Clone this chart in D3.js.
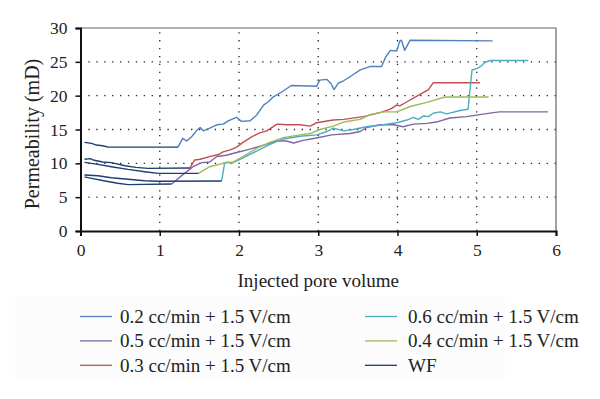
<!DOCTYPE html>
<html>
<head>
<meta charset="utf-8">
<script src="https://cdn.jsdelivr.net/npm/d3@7"></script>
<style>
  body { margin: 0; background: #fff; }
</style>
</head>
<body>
<svg id="chart" width="600" height="399"></svg>
<script>
// water flooding stage of each run (dark navy, "WF")
const wfRun02 = [[0.05, 13.1], [0.14, 12.95], [0.20, 12.7], [0.28, 12.6], [0.35, 12.4], [1.23, 12.4]];
const wfRun03 = [[0.05, 10.6], [0.12, 10.7], [0.16, 10.5], [0.28, 10.2], [0.39, 10.1], [0.56, 9.65], [0.70, 9.4], [0.85, 9.26], [1.38, 9.3]];
const wfRun04 = [[0.05, 10.15], [0.22, 9.85], [0.39, 9.5], [0.60, 9.1], [0.81, 8.76], [0.98, 8.52], [1.49, 8.52]];
const wfRun06 = [[0.05, 8.27], [0.22, 8.17], [0.39, 7.87], [0.60, 7.64], [0.81, 7.43], [0.98, 7.35], [1.78, 7.38]];
const wfRun05 = [[0.05, 8.0], [0.14, 7.78], [0.31, 7.39], [0.47, 7.05], [0.60, 6.85], [1.15, 6.95]];

// electrokinetic stage
const ek02 = [[1.23, 12.4], [1.29, 13.7], [1.34, 13.3], [1.40, 13.9], [1.47, 14.9], [1.51, 15.3], [1.55, 14.8],
  [1.63, 15.2], [1.72, 15.7], [1.80, 15.8], [1.87, 16.3], [1.97, 16.8], [2.03, 16.2], [2.14, 16.3], [2.22, 17.1],
  [2.31, 18.6], [2.37, 19.1], [2.43, 19.8], [2.52, 20.4], [2.66, 21.5], [2.98, 21.4], [3.02, 22.3], [3.11, 22.4],
  [3.16, 21.8], [3.20, 20.9], [3.25, 21.8], [3.32, 22.2], [3.40, 22.8], [3.53, 23.8], [3.65, 24.3], [3.80, 24.3],
  [3.85, 25.7], [3.91, 26.7], [3.99, 26.6], [4.03, 28.1], [4.05, 28.2], [4.09, 26.7], [4.16, 28.2], [5.20, 28.1]];
const ek05 = [[1.15, 6.95], [1.30, 8.4], [1.42, 9.5], [1.53, 10.1], [1.63, 10.2], [1.72, 11.0], [1.84, 11.2],
  [1.97, 11.6], [2.14, 12.1], [2.31, 12.7], [2.48, 13.3], [2.60, 13.3], [2.69, 13.0], [2.81, 13.4], [2.96, 13.7],
  [3.17, 14.2], [3.40, 14.4], [3.53, 14.7], [3.61, 15.3], [3.78, 15.7], [3.95, 15.7], [4.07, 15.4], [4.20, 15.8],
  [4.37, 15.9], [4.49, 16.1], [4.66, 16.7], [4.87, 16.9], [5.04, 17.2], [5.21, 17.5], [5.29, 17.6], [5.90, 17.6]];
const ek03 = [[1.38, 9.3], [1.44, 10.5], [1.51, 10.6], [1.63, 11.0], [1.74, 11.3], [1.80, 11.7], [1.89, 12.0],
  [1.97, 12.4], [2.05, 13.1], [2.16, 13.9], [2.26, 14.5], [2.35, 14.8], [2.48, 15.8], [2.60, 15.7], [2.77, 15.7],
  [2.90, 15.5], [2.98, 16.0], [3.19, 16.4], [3.32, 16.5], [3.57, 16.9], [3.78, 17.5], [3.91, 18.0], [3.99, 18.6],
  [4.03, 18.5], [4.12, 19.1], [4.24, 19.9], [4.39, 20.9], [4.45, 21.9], [5.04, 21.9]];
const ek06 = [[1.78, 7.38], [1.82, 10.1], [1.87, 10.2], [1.90, 9.95], [2.05, 10.8], [2.22, 11.8], [2.39, 12.8],
  [2.56, 13.6], [2.77, 14.0], [2.98, 14.2], [3.11, 14.7], [3.19, 15.2], [3.32, 14.8], [3.44, 15.0], [3.61, 15.4],
  [3.82, 15.7], [3.99, 16.0], [4.12, 16.4], [4.20, 16.8], [4.26, 16.5], [4.33, 17.0], [4.39, 16.9], [4.45, 17.4],
  [4.54, 17.6], [4.62, 17.3], [4.79, 17.8], [4.89, 18.0], [4.94, 23.8], [5.00, 24.0], [5.06, 24.4], [5.10, 24.9],
  [5.17, 25.2], [5.65, 25.2]];
const ek04 = [[1.49, 8.52], [1.63, 9.5], [1.80, 10.0], [1.93, 10.2], [2.05, 11.0], [2.22, 12.2], [2.39, 13.1],
  [2.56, 13.8], [2.77, 14.2], [2.90, 14.4], [3.02, 15.0], [3.19, 15.5], [3.32, 16.1], [3.53, 16.5], [3.65, 17.2],
  [3.82, 17.6], [3.99, 17.6], [4.16, 18.4], [4.37, 19.0], [4.60, 19.8], [5.15, 19.8]];

const seriesNames = ['0.2 cc/min + 1.5 V/cm', '0.5 cc/min + 1.5 V/cm', '0.3 cc/min + 1.5 V/cm',
  '0.6 cc/min + 1.5 V/cm', '0.4 cc/min + 1.5 V/cm', 'WF'];
const seriesColors = ['#4f81bd', '#8064a2', '#c0504d', '#4bacc6', '#9bbb59', '#1f3f6e'];
const seriesData = [[ek02], [ek05], [ek03], [ek06], [ek04], [wfRun02, wfRun03, wfRun04, wfRun06, wfRun05]];

const xTicks = [0, 1, 2, 3, 4, 5, 6];
const yTicks = [0, 5, 10, 15, 20, 25, 30];

const serif = '"Liberation Serif", "Times New Roman", "DejaVu Serif", serif';

const svg = d3.select('#chart');
const margin = { left: 80.5, right: 44, top: 28, bottom: 168 };
const width = 600 - margin.left - margin.right;
const height = 399 - margin.top - margin.bottom;

const x = d3.scaleLinear().domain([0, 6]).range([margin.left, margin.left + width]);
const y = d3.scaleLinear().domain([0, 30]).range([margin.top + height, margin.top]);

// dotted grid
const grid = svg.append('g');
grid.selectAll('.hgrid')
    .data(yTicks.slice(1, -1))
    .enter()
    .append('line')
    .attr('x1', x(0)).attr('x2', x(6))
    .attr('y1', d => y(d)).attr('y2', d => y(d))
    .attr('stroke', '#222')
    .attr('stroke-width', 1.3)
    .attr('stroke-dasharray', '1.3 6.6');
grid.selectAll('.vgrid')
    .data(xTicks.slice(1, -1))
    .enter()
    .append('line')
    .attr('y1', y(0)).attr('y2', y(30))
    .attr('x1', d => x(d)).attr('x2', d => x(d))
    .attr('stroke', '#222')
    .attr('stroke-width', 1.3)
    .attr('stroke-dasharray', '1.3 6.6');

// top and right frame
svg.append('path')
    .attr('d', `M${x(0)},${y(30)}H${x(6)}V${y(0)}`)
    .attr('fill', 'none')
    .attr('stroke', '#666')
    .attr('stroke-width', 1.2);

const line = d3.line().x(d => x(d[0])).y(d => y(d[1]));

const lines = svg.append('g');
seriesData.forEach((parts, i) => {
    lines.selectAll(null)
        .data(parts)
        .enter()
        .append('path')
        .attr('d', line)
        .attr('fill', 'none')
        .attr('stroke', seriesColors[i])
        .attr('stroke-width', 1.4)
        .attr('stroke-linejoin', 'round');
});

// axes
const xAxis = svg.append('g')
    .attr('transform', `translate(0,${y(0)})`)
    .call(d3.axisBottom(x).tickValues(xTicks).tickSize(5).tickPadding(8).tickFormat(d3.format('d')));
const yAxis = svg.append('g')
    .attr('transform', `translate(${x(0)},0)`)
    .call(d3.axisLeft(y).tickValues(yTicks).tickSize(5).tickPadding(8).tickFormat(d3.format('d')));
[xAxis, yAxis].forEach(a => {
    a.attr('font-family', serif).attr('font-size', 17.5);
    a.select('.domain').attr('stroke', '#111').attr('stroke-width', 2);
    a.selectAll('.tick line').attr('stroke', '#111').attr('stroke-width', 1.5);
    a.selectAll('.tick text').attr('fill', '#222');
});

svg.append('text')
    .attr('x', x(3)).attr('y', 287)
    .attr('text-anchor', 'middle')
    .attr('font-family', serif)
    .attr('font-size', 19)
    .attr('fill', '#222')
    .text('Injected pore volume');

svg.append('text')
    .attr('transform', `translate(39,134) rotate(-90)`)
    .attr('text-anchor', 'middle')
    .attr('font-family', serif)
    .attr('font-size', 20)
    .attr('fill', '#222')
    .text('Permeability (mD)');

// legend, two columns of three
const legend = svg.append('g');
legend.append('rect')
    .attr('x', 15).attr('y', 296).attr('width', 490).attr('height', 82)
    .attr('fill', '#fcfcfc');
const items = legend.selectAll('.item')
    .data(seriesNames)
    .enter()
    .append('g')
    .attr('transform', (d, i) => `translate(${i < 3 ? 80 : 365},${316.5 + (i % 3) * 24.4})`);
items.append('line')
    .attr('x1', 0).attr('x2', 32)
    .attr('stroke', (d, i) => seriesColors[i])
    .attr('stroke-width', 1.3);
items.append('text')
    .attr('x', (d, i) => i < 3 ? 40 : 43).attr('dy', '0.33em')
    .attr('font-family', serif)
    .attr('font-size', 19)
    .attr('fill', '#222')
    .text(d => d);
</script>
</body>
</html>
